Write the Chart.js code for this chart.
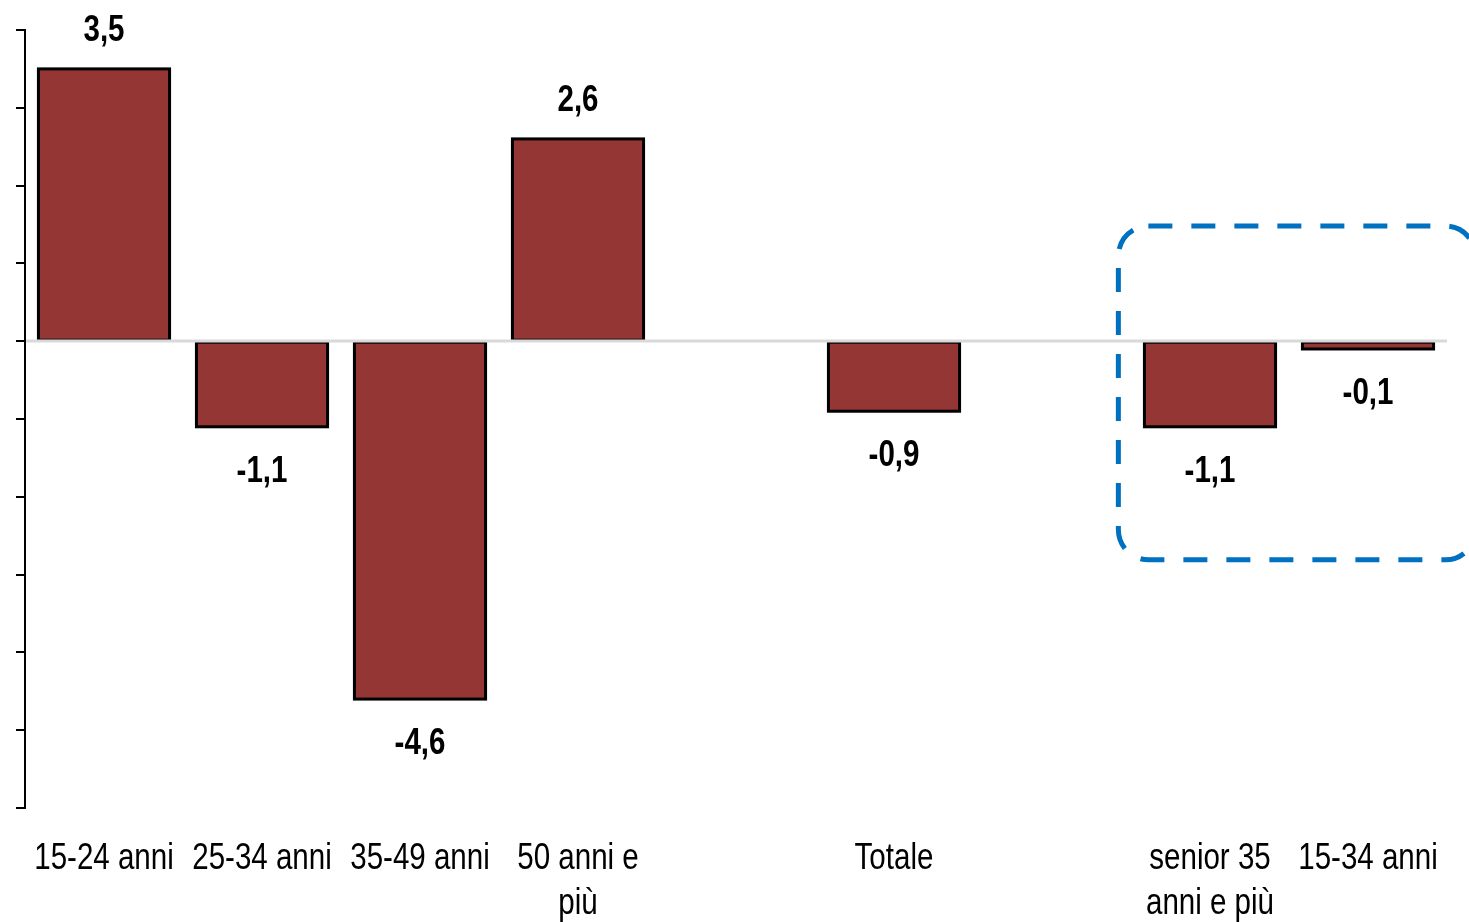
<!DOCTYPE html>
<html>
<head>
<meta charset="utf-8">
<script src="https://cdn.jsdelivr.net/npm/chart.js@4/dist/chart.umd.min.js"></script>
<style>
  html, body { margin: 0; padding: 0; background: #ffffff; }
  #wrap { width: 1469px; height: 922px; }
</style>
</head>
<body>
<div id="wrap"><canvas id="c" width="1469" height="922"></canvas></div>
<script>
const categories = [
  "15-24 anni",
  "25-34 anni",
  "35-49 anni",
  ["50 anni e", "più"],
  "",
  "Totale",
  "",
  ["senior 35", "anni e più"],
  "15-34 anni"
];
const values = [3.5, -1.1, -4.6, 2.6, null, -0.9, null, -1.1, -0.1];
const valueLabels = ["3,5", "-1,1", "-4,6", "2,6", "", "-0,9", "", "-1,1", "-0,1"];
const yMin = -6, yMax = 4, yStep = 1;

const FONT = "'Liberation Sans', Arial, sans-serif";
const NARROW = 0.82;

function narrowText(ctx, text, x, y) {
  ctx.save();
  ctx.translate(x, y);
  ctx.scale(NARROW, 1);
  ctx.fillText(text, 0, 0);
  ctx.restore();
}

const overlayPlugin = {
  id: 'overlay',
  afterDatasetsDraw(chart) {
    const ctx = chart.ctx;
    const x = chart.scales.x, y = chart.scales.y;
    const area = chart.chartArea;
    const meta = chart.getDatasetMeta(0);

    // bar outlines (stroke centred on the bar edge)
    ctx.save();
    ctx.strokeStyle = '#000000';
    ctx.lineWidth = 3;
    ctx.lineJoin = 'miter';
    meta.data.forEach((bar, i) => {
      const v = values[i];
      if (v === null || v === undefined) return;
      const top = Math.min(bar.y, bar.base);
      const h = Math.abs(bar.y - bar.base);
      ctx.strokeRect(bar.x - bar.width / 2, top, bar.width, h);
    });
    ctx.restore();

    // zero line
    ctx.save();
    ctx.strokeStyle = '#d9d9d9';
    ctx.lineWidth = 3;
    const y0 = Math.round(y.getPixelForValue(0));
    ctx.beginPath();
    ctx.moveTo(area.left + 1, y0);
    ctx.lineTo(area.right, y0);
    ctx.stroke();
    ctx.restore();

    // value labels
    ctx.save();
    ctx.font = "bold 36px " + FONT;
    ctx.fillStyle = '#000000';
    ctx.textAlign = 'center';
    ctx.textBaseline = 'middle';
    meta.data.forEach((bar, i) => {
      const v = values[i];
      if (v === null || v === undefined) return;
      const ty = v >= 0 ? bar.y - 38 : bar.y + 45;
      narrowText(ctx, valueLabels[i], bar.x, ty);
    });
    ctx.restore();

    // category labels
    ctx.save();
    ctx.font = "36px " + FONT;
    ctx.fillStyle = '#000000';
    ctx.textAlign = 'center';
    ctx.textBaseline = 'middle';
    categories.forEach((lab, i) => {
      const lines = Array.isArray(lab) ? lab : [lab];
      const cx = x.getPixelForValue(i);
      lines.forEach((ln, k) => {
        if (ln) narrowText(ctx, ln, cx, area.bottom + 51 + k * 45);
      });
    });
    ctx.restore();

    // dashed highlight box around the last two categories
    const step = x.getPixelForValue(8) - x.getPixelForValue(7);
    const left = x.getPixelForValue(7) - step * 0.58;
    const right = x.getPixelForValue(8) + step * 0.68;
    const top = y.getPixelForValue(1.48);
    const bottom = y.getPixelForValue(-2.81);
    const r = 30;
    ctx.save();
    ctx.strokeStyle = '#0070C0';
    ctx.lineWidth = 5;
    ctx.setLineDash([24, 19]);
    ctx.beginPath();
    ctx.moveTo(left + r, top);
    ctx.lineTo(right - r, top);
    ctx.arcTo(right, top, right, top + r, r);
    ctx.lineTo(right, bottom - r);
    ctx.arcTo(right, bottom, right - r, bottom, r);
    ctx.lineTo(left + r, bottom);
    ctx.arcTo(left, bottom, left, bottom - r, r);
    ctx.lineTo(left, top + r);
    ctx.arcTo(left, top, left + r, top, r);
    ctx.closePath();
    ctx.stroke();
    ctx.restore();
  }
};

new Chart(document.getElementById('c'), {
  type: 'bar',
  data: {
    labels: categories,
    datasets: [{
      data: values,
      backgroundColor: '#943634',
      borderWidth: 0,
      categoryPercentage: 1.0,
      barPercentage: 0.83
    }]
  },
  options: {
    responsive: false,
    animation: false,
    devicePixelRatio: 1,
    layout: { padding: { left: 16, right: 22, top: 30, bottom: 0 } },
    plugins: {
      legend: { display: false },
      tooltip: { enabled: false }
    },
    scales: {
      x: {
        grid: { display: false, drawTicks: false },
        border: { display: false },
        ticks: { display: false },
        afterFit(scale) { scale.height = 114; }
      },
      y: {
        min: yMin,
        max: yMax,
        ticks: { display: false, stepSize: yStep },
        grid: { display: true, drawOnChartArea: false, drawTicks: true, tickLength: 9, color: '#000000', lineWidth: 2 },
        border: { display: true, color: '#000000', width: 2 },
        afterFit(scale) { scale.width = 9; }
      }
    }
  },
  plugins: [overlayPlugin]
});
</script>
</body>
</html>
